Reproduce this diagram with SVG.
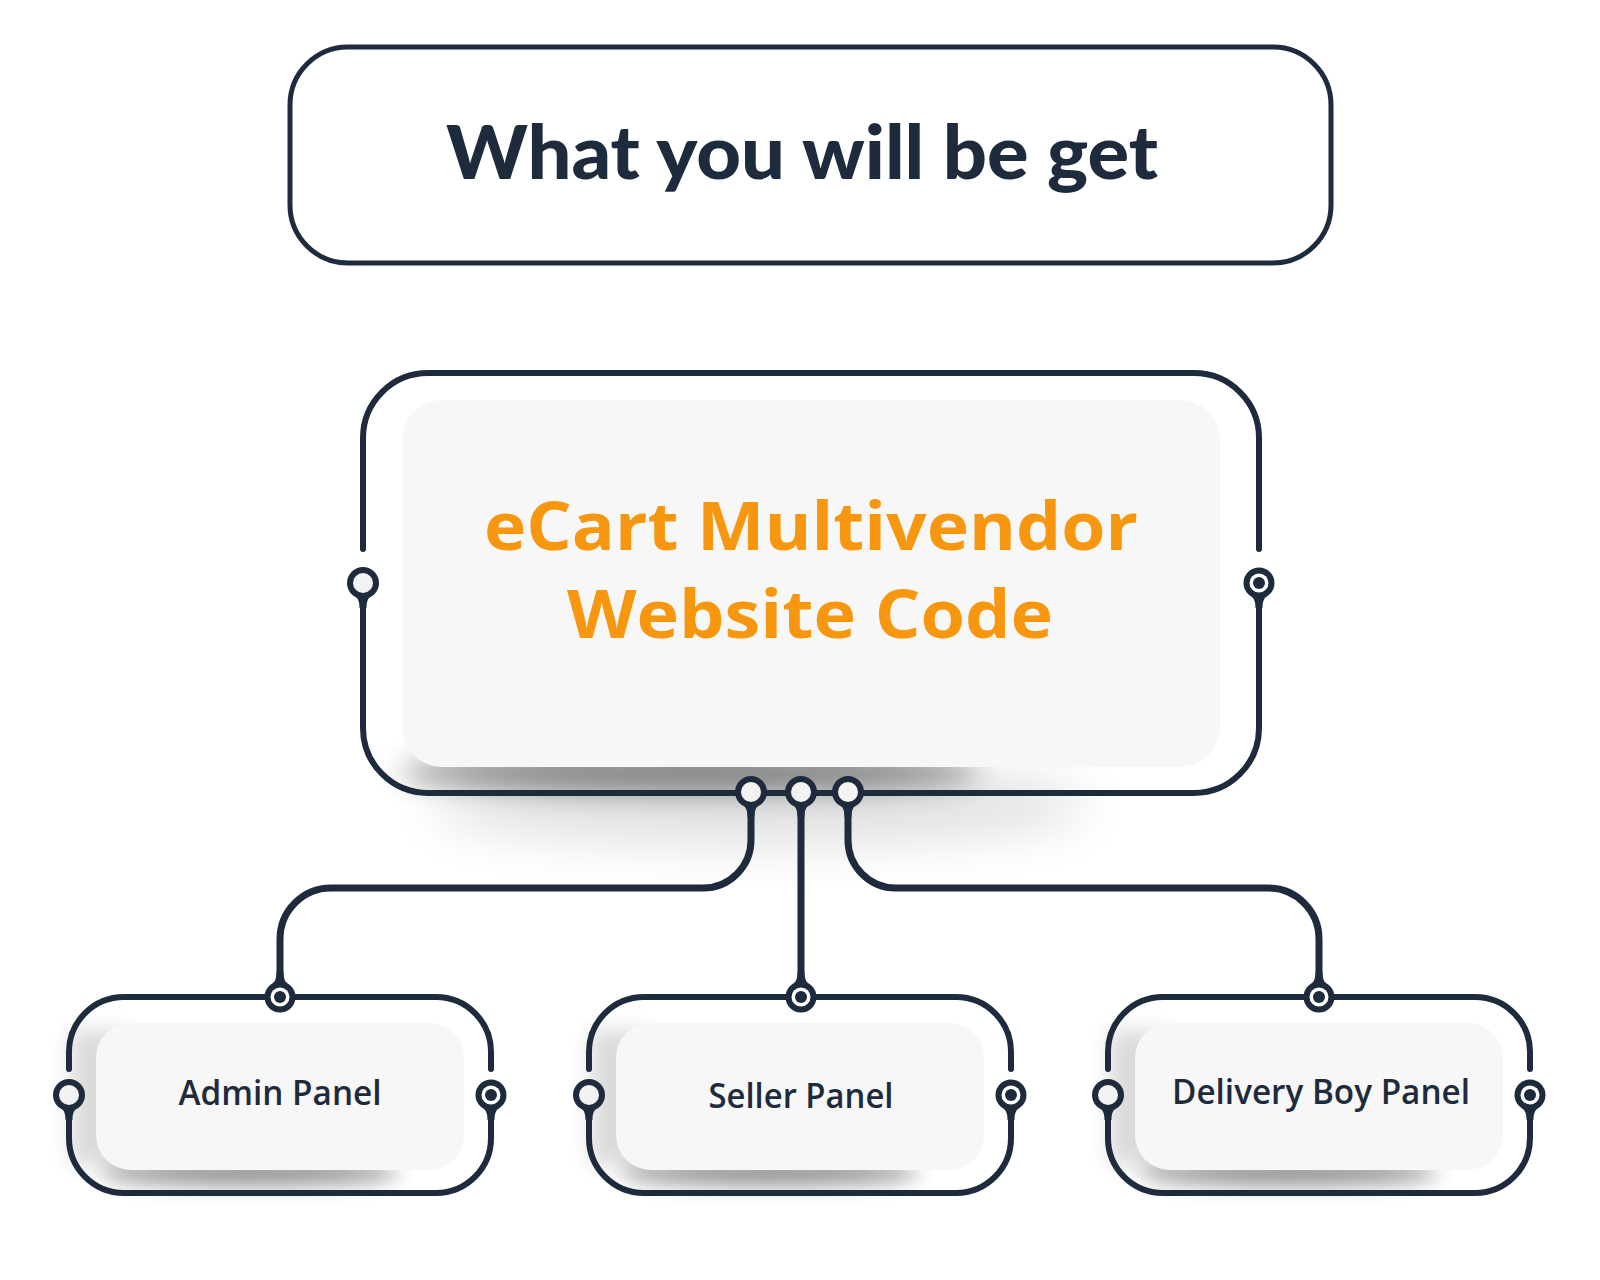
<svg xmlns="http://www.w3.org/2000/svg" width="1600" height="1280" viewBox="0 0 1600 1280">
<style>
.ln{fill:none;stroke:#1e2b3c;stroke-linecap:round;stroke-linejoin:round}
.box{stroke-width:6}
.con{stroke-width:7}
.inner{fill:#f7f7f7}
.sub{font-family:"Open Sans","Liberation Sans",sans-serif;font-weight:600;font-size:35px;fill:#1e2b3c;text-anchor:middle}
.big{font-family:"Open Sans","Liberation Sans",sans-serif;font-weight:700;font-size:66px;fill:#f7960f;text-anchor:middle}
</style>
<defs>
<filter id="b14" x="-50%" y="-200%" width="200%" height="500%"><feGaussianBlur stdDeviation="14"/></filter>
<filter id="b25" x="-50%" y="-200%" width="200%" height="500%"><feGaussianBlur stdDeviation="25"/></filter>
<filter id="b10" x="-50%" y="-200%" width="200%" height="500%"><feGaussianBlur stdDeviation="10"/></filter>
<path id="drop" d="M-10,11 C-5,15 -3.5,18 -3.5,25 H3.5 C3.5,18 5,15 10,11 Z" fill="#1e2b3c"/>
<g id="hollow"><circle r="16" fill="#1e2b3c"/><circle r="10" fill="#f2f2f2"/></g>
<g id="target"><circle r="15.5" fill="#1e2b3c"/><circle r="9.5" fill="#ffffff"/><circle r="6" fill="#1e2b3c"/></g>
</defs>
<rect width="1600" height="1280" fill="#ffffff"/>

<g id="title">
<rect x="290" y="47" width="1041" height="216" rx="58" fill="#ffffff" stroke="#1e2b3c" stroke-width="5"/>
<text x="802" y="179" font-family="Lato,'Liberation Sans',sans-serif" font-weight="900" font-size="74" fill="#1e2b3c" text-anchor="middle" textLength="712" lengthAdjust="spacingAndGlyphs">What you will be get</text>
</g>

<g id="main">
<ellipse cx="760" cy="805" rx="330" ry="40" fill="#000" opacity="0.12" filter="url(#b25)"/>
<ellipse cx="690" cy="772" rx="290" ry="20" fill="#000" opacity="0.45" filter="url(#b14)"/>
<rect class="inner" x="402" y="400" width="818" height="367" rx="40"/>
<path class="ln box" d="M363,598 V728 A65,65 0 0 0 428,793 H1194 A65,65 0 0 0 1259,728 V598"/>
<path class="ln box" d="M363,549 V438 A65,65 0 0 1 428,373 H1194 A65,65 0 0 1 1259,438 V549"/>
<use href="#drop" x="363" y="583"/>
<use href="#hollow" x="363" y="583"/>
<use href="#drop" x="1259" y="583"/>
<use href="#target" x="1259" y="583"/>
<text class="big" x="811" y="550" textLength="654" lengthAdjust="spacingAndGlyphs">eCart Multivendor</text>
<text class="big" x="810" y="638" textLength="486" lengthAdjust="spacingAndGlyphs">Website Code</text>
</g>

<g id="connectors">
<path class="ln con" d="M751,792 V840 A48,48 0 0 1 703,888 H331 A51,51 0 0 0 280,939 V997"/>
<path class="ln con" d="M801,792 V997"/>
<path class="ln con" d="M848,792 V840 A48,48 0 0 0 896,888 H1268 A51,51 0 0 1 1319,939 V997"/>
<use href="#drop" x="751" y="792"/>
<use href="#drop" x="801" y="792"/>
<use href="#drop" x="848" y="792"/>
<use href="#hollow" x="751" y="792"/>
<use href="#hollow" x="801" y="792"/>
<use href="#hollow" x="848" y="792"/>
</g>

<g id="admin">
<rect x="70" y="1030" width="60" height="135" fill="#000" opacity="0.14" filter="url(#b10)"/>
<ellipse cx="250" cy="1173" rx="150" ry="12" fill="#000" opacity="0.45" filter="url(#b10)"/>
<rect class="inner" x="96" y="1023" width="368" height="147" rx="35"/>
<path class="ln box" d="M69,1110 V1138 A55,55 0 0 0 124,1193 H436 A55,55 0 0 0 491,1138 V1110"/>
<path class="ln box" d="M69,1069 V1052 A55,55 0 0 1 124,997 H436 A55,55 0 0 1 491,1052 V1069"/>
<use href="#drop" transform="translate(280,997) rotate(180)"/>
<use href="#target" x="280" y="997"/>
<use href="#drop" x="69" y="1095"/>
<use href="#hollow" x="69" y="1095"/>
<use href="#drop" x="491" y="1095"/>
<use href="#target" x="491" y="1095"/>
<text class="sub" x="280" y="1105" textLength="203" lengthAdjust="spacingAndGlyphs">Admin Panel</text>
</g>

<g id="seller">
<rect x="590" y="1030" width="60" height="135" fill="#000" opacity="0.14" filter="url(#b10)"/>
<ellipse cx="770" cy="1173" rx="150" ry="12" fill="#000" opacity="0.45" filter="url(#b10)"/>
<rect class="inner" x="616" y="1023" width="368" height="147" rx="35"/>
<path class="ln box" d="M589,1110 V1138 A55,55 0 0 0 644,1193 H956 A55,55 0 0 0 1011,1138 V1110"/>
<path class="ln box" d="M589,1069 V1052 A55,55 0 0 1 644,997 H956 A55,55 0 0 1 1011,1052 V1069"/>
<use href="#drop" transform="translate(801,997) rotate(180)"/>
<use href="#target" x="801" y="997"/>
<use href="#drop" x="589" y="1095"/>
<use href="#hollow" x="589" y="1095"/>
<use href="#drop" x="1011" y="1095"/>
<use href="#target" x="1011" y="1095"/>
<text class="sub" x="801" y="1108" textLength="185" lengthAdjust="spacingAndGlyphs">Seller Panel</text>
</g>

<g id="delivery">
<rect x="1109" y="1030" width="60" height="135" fill="#000" opacity="0.14" filter="url(#b10)"/>
<ellipse cx="1289" cy="1173" rx="150" ry="12" fill="#000" opacity="0.45" filter="url(#b10)"/>
<rect class="inner" x="1135" y="1023" width="368" height="147" rx="35"/>
<path class="ln box" d="M1108,1110 V1138 A55,55 0 0 0 1163,1193 H1475 A55,55 0 0 0 1530,1138 V1110"/>
<path class="ln box" d="M1108,1069 V1052 A55,55 0 0 1 1163,997 H1475 A55,55 0 0 1 1530,1052 V1069"/>
<use href="#drop" transform="translate(1319,997) rotate(180)"/>
<use href="#target" x="1319" y="997"/>
<use href="#drop" x="1108" y="1095"/>
<use href="#hollow" x="1108" y="1095"/>
<use href="#drop" x="1530" y="1095"/>
<use href="#target" x="1530" y="1095"/>
<text class="sub" x="1321" y="1104" textLength="298" lengthAdjust="spacingAndGlyphs">Delivery Boy Panel</text>
</g>
</svg>
